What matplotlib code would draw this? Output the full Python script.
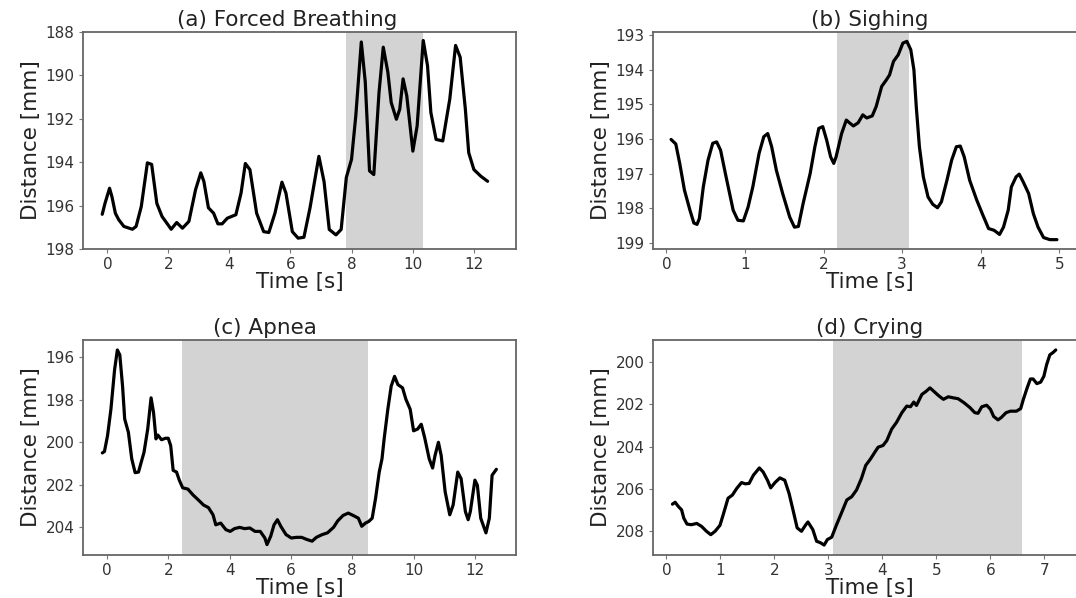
import matplotlib
matplotlib.use("Agg")
import matplotlib.pyplot as plt
import numpy as np

# (a) forced breathing
t_a = [-0.17, -0.08, 0.07, 0.15, 0.26, 0.37, 0.54, 0.82, 0.94, 1.11, 1.31, 1.45, 1.62, 1.79,
       2.09, 2.27, 2.46, 2.67, 2.89, 3.06, 3.16, 3.31, 3.48, 3.62, 3.76, 3.93, 4.21, 4.38,
       4.52, 4.67, 4.89, 5.12, 5.29, 5.49, 5.72, 5.85, 6.06, 6.25, 6.44, 6.64, 6.93, 7.10,
       7.27, 7.49, 7.66, 7.83, 8.00, 8.14, 8.32, 8.45, 8.59, 8.73, 8.90, 9.04, 9.19, 9.30,
       9.47, 9.58, 9.69, 9.81, 10.01, 10.15, 10.35, 10.49, 10.60, 10.77, 10.99, 11.22, 11.41,
       11.56, 11.73, 11.84, 12.01, 12.24, 12.46]
d_a = [196.4, 195.9, 195.2, 195.6, 196.35, 196.65, 196.96, 197.09, 196.96, 196.04, 194.03,
       194.1, 195.9, 196.5, 197.09, 196.78, 197.04, 196.73, 195.26, 194.49, 194.88, 196.1,
       196.35, 196.84, 196.84, 196.58, 196.42, 195.42, 194.06, 194.34, 196.35, 197.2, 197.24,
       196.35, 194.92, 195.42, 197.2, 197.5, 197.46, 196.1, 193.73, 194.9, 197.1, 197.35,
       197.1, 194.7, 193.87, 191.86, 188.46, 190.3, 194.4, 194.57, 190.8, 188.7, 189.85,
       191.25, 192.02, 191.56, 190.16, 190.94, 193.49, 192.33, 188.39, 189.55, 191.71, 192.95,
       193.02, 191.09, 188.62, 189.16, 191.55, 193.56, 194.34, 194.65, 194.88]

# (b) sighing
t_b = [0.06, 0.12, 0.17, 0.23, 0.30, 0.35, 0.39, 0.42, 0.47, 0.53, 0.59, 0.64, 0.69, 0.76,
       0.85, 0.91, 0.98, 1.04, 1.10, 1.18, 1.24, 1.29, 1.34, 1.40, 1.48, 1.57, 1.63, 1.68,
       1.74, 1.83, 1.89, 1.94, 1.99, 2.04, 2.09, 2.13, 2.16, 2.23, 2.29, 2.33, 2.38, 2.44,
       2.50, 2.55, 2.62, 2.67, 2.74, 2.80, 2.84, 2.89, 2.95, 3.01, 3.06, 3.11, 3.15, 3.18,
       3.22, 3.27, 3.33, 3.39, 3.45, 3.50, 3.57, 3.63, 3.69, 3.74, 3.79, 3.86, 3.95, 4.02,
       4.10, 4.17, 4.24, 4.29, 4.35, 4.39, 4.45, 4.49, 4.54, 4.61, 4.67, 4.73, 4.80, 4.88, 4.97]
d_b = [196.01, 196.14, 196.7, 197.47, 198.05, 198.42, 198.46, 198.29, 197.38, 196.61, 196.12,
       196.08, 196.32, 197.09, 198.05, 198.34, 198.36, 197.96, 197.38, 196.41, 195.93, 195.84,
       196.22, 196.9, 197.57, 198.25, 198.54, 198.52, 197.86, 196.99, 196.22, 195.69, 195.64,
       196.03, 196.51, 196.7, 196.51, 195.84, 195.45, 195.53, 195.62, 195.53, 195.3, 195.39,
       195.33, 195.06, 194.48, 194.29, 194.15, 193.76, 193.57, 193.23, 193.18, 193.42, 194.0,
       195.06, 196.22, 197.09, 197.67, 197.88, 197.98, 197.81, 197.19, 196.61, 196.22, 196.2,
       196.51, 197.19, 197.76, 198.15, 198.58, 198.63, 198.75, 198.54, 198.05, 197.38, 197.09,
       197.01, 197.23, 197.57, 198.15, 198.54, 198.84, 198.9, 198.9]

# (c) apnea
t_c = [-0.15, -0.08, 0.02, 0.13, 0.25, 0.34, 0.42, 0.51, 0.58, 0.70, 0.81, 0.92, 1.03, 1.12,
       1.21, 1.33, 1.44, 1.52, 1.60, 1.66, 1.78, 1.91, 2.00, 2.08, 2.16, 2.27, 2.36, 2.47,
       2.64, 2.81, 2.98, 3.15, 3.31, 3.46, 3.55, 3.71, 3.88, 4.02, 4.16, 4.33, 4.49, 4.66,
       4.83, 5.00, 5.15, 5.22, 5.34, 5.45, 5.56, 5.67, 5.84, 6.01, 6.18, 6.35, 6.52, 6.69,
       6.83, 7.02, 7.19, 7.39, 7.53, 7.70, 7.87, 8.03, 8.20, 8.31, 8.43, 8.54, 8.65, 8.76,
       8.88, 8.97, 9.04, 9.16, 9.27, 9.38, 9.49, 9.64, 9.75, 9.89, 10.00, 10.13, 10.25, 10.36,
       10.51, 10.62, 10.70, 10.81, 10.90, 11.03, 11.18, 11.29, 11.44, 11.55, 11.69, 11.78,
       11.85, 12.00, 12.08, 12.19, 12.36, 12.47, 12.56, 12.70]
d_c = [200.5, 200.43, 199.69, 198.45, 196.59, 195.66, 195.89, 197.36, 198.91, 199.53, 200.78,
       201.43, 201.4, 200.93, 200.47, 199.38, 197.91, 198.6, 199.84, 199.66, 199.88, 199.81,
       199.81, 200.16, 201.32, 201.4, 201.78, 202.14, 202.2, 202.48, 202.71, 202.95, 203.07,
       203.41, 203.88, 203.8, 204.11, 204.19, 204.06, 204.0, 204.06, 204.03, 204.19, 204.19,
       204.5, 204.81, 204.42, 203.88, 203.64, 203.95, 204.34, 204.5, 204.47, 204.47, 204.57,
       204.65, 204.47, 204.34, 204.26, 204.0, 203.69, 203.44, 203.33, 203.44, 203.57, 203.95,
       203.8, 203.72, 203.57, 202.64, 201.4, 200.78, 199.84, 198.45, 197.36, 196.9, 197.29,
       197.44, 197.98, 198.45, 199.46, 199.38, 199.15, 199.77, 200.78, 201.21, 200.62, 200.0,
       200.62, 202.33, 203.41, 202.95, 201.4, 201.71, 203.26, 203.64, 203.26, 201.78, 202.02,
       203.57, 204.26, 203.57, 201.55, 201.27]

# (d) crying
t_d = [0.11, 0.16, 0.22, 0.28, 0.32, 0.38, 0.46, 0.56, 0.65, 0.74, 0.82, 0.90, 0.99, 1.05,
       1.14, 1.22, 1.30, 1.39, 1.46, 1.53, 1.61, 1.72, 1.79, 1.87, 1.93, 2.01, 2.10, 2.19,
       2.27, 2.35, 2.42, 2.50, 2.58, 2.62, 2.71, 2.78, 2.85, 2.92, 2.98, 3.06, 3.15, 3.24,
       3.34, 3.43, 3.52, 3.61, 3.69, 3.78, 3.86, 3.92, 4.01, 4.08, 4.17, 4.26, 4.36, 4.45,
       4.52, 4.58, 4.63, 4.73, 4.81, 4.88, 4.95, 5.05, 5.13, 5.22, 5.31, 5.40, 5.51, 5.62,
       5.71, 5.77, 5.84, 5.93, 6.00, 6.06, 6.14, 6.20, 6.29, 6.37, 6.48, 6.56, 6.61, 6.68,
       6.74, 6.79, 6.86, 6.93, 6.99, 7.04, 7.10, 7.16, 7.21]
d_d = [206.72, 206.63, 206.83, 206.99, 207.38, 207.66, 207.69, 207.63, 207.77, 208.0, 208.16,
       208.0, 207.72, 207.22, 206.44, 206.29, 205.98, 205.7, 205.76, 205.74, 205.35, 205.01,
       205.2, 205.59, 205.95, 205.7, 205.48, 205.59, 206.21, 207.07, 207.84, 208.0, 207.69,
       207.56, 207.92, 208.47, 208.54, 208.65, 208.39, 208.28, 207.69, 207.14, 206.52, 206.37,
       206.05, 205.51, 204.89, 204.58, 204.26, 204.03, 203.95, 203.72, 203.18, 202.86, 202.4,
       202.09, 202.12, 201.9, 202.06, 201.54, 201.39, 201.23, 201.39, 201.62, 201.77, 201.65,
       201.7, 201.74, 201.93, 202.16, 202.4, 202.43, 202.12, 202.05, 202.24, 202.58, 202.74,
       202.63, 202.4, 202.33, 202.33, 202.21, 201.77, 201.23, 200.81, 200.81, 201.03, 200.96,
       200.68, 200.14, 199.67, 199.56, 199.44]

titles = ["(a) Forced Breathing", "(b) Sighing", "(c) Apnea", "(d) Crying"]
title_x = [0.472, 0.5, 0.42, 0.5]
times = [t_a, t_b, t_c, t_d]
dists = [d_a, d_b, d_c, d_d]
shades = [(7.83, 10.35), (2.17, 3.09), (2.45, 8.51), (3.08, 6.58)]
xlims = [(-0.8, 13.39), (-0.17, 5.34), (-0.78, 13.34), (-0.25, 7.77)]
ylims = [(198.0, 188.0), (199.17, 192.91), (205.3, 195.19), (209.12, 198.97)]
xticks = [range(0, 13, 2), range(0, 6), range(0, 13, 2), range(0, 8)]
yticks = [range(188, 199, 2), range(193, 200), range(196, 205, 2), range(200, 209, 2)]

fig = plt.figure(figsize=(10.76, 5.98), dpi=100)
W, H = 1076, 598
# axes boxes in pixels: left, top, right, bottom
boxes = [(83, 32, 516, 249), (653, 32, 1086, 249), (83, 340, 516, 555), (653, 340, 1086, 555)]

for i in range(4):
    l, t, r, b = boxes[i]
    ax = fig.add_axes([l / W, 1 - b / H, (r - l) / W, (b - t) / H])
    ax.axvspan(shades[i][0], shades[i][1], color="#d3d3d3", lw=0, zorder=0)
    ax.plot(times[i], dists[i], color="black", lw=2.3, zorder=2,
            solid_joinstyle="round", solid_capstyle="round")
    ax.set_xlim(*xlims[i])
    ax.set_ylim(*ylims[i])
    ax.set_xticks(list(xticks[i]))
    ax.set_yticks(list(yticks[i]))
    ax.set_title(titles[i], fontsize=15.5, color="#222222", pad=4, x=title_x[i])
    ax.set_xlabel("Time [s]", fontsize=15.5, color="#222222", labelpad=-0.5)
    ax.set_ylabel("Distance [mm]", fontsize=15.5, color="#222222", labelpad=3)
    ax.tick_params(labelsize=11, colors="#333333", length=3, width=0.8, color="#777777", pad=3)
    for s in ax.spines.values():
        s.set_color("#666666")
        s.set_linewidth(1.3)

fig.savefig("out.png", dpi=100)
